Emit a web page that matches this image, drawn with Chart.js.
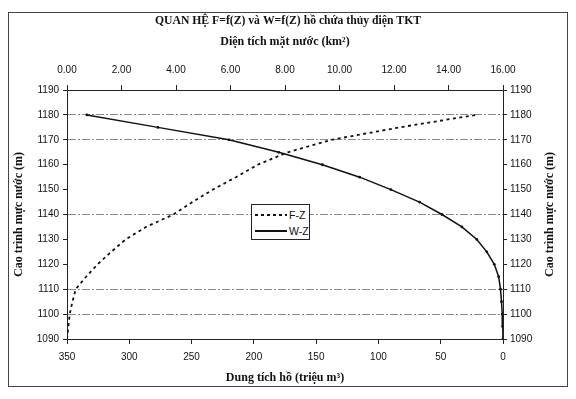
<!DOCTYPE html>
<html>
<head>
<meta charset="utf-8">
<script src="https://cdn.jsdelivr.net/npm/chart.js@4/dist/chart.umd.min.js"></script>
<style>
  body { margin: 0; background: #fff; }
  #wrap { position: relative; width: 576px; height: 399px; }
  #frame { position: absolute; left: 8px; top: 12px; width: 558px; height: 373px; border: 1px solid #444; pointer-events: none; }
  #legend { position: absolute; left: 251px; top: 204px; width: 57px; height: 34px; border: 1px solid #222; background: #fff;
            font: 10.5px "Liberation Sans", Arial, sans-serif; color: #111; }
  #legend .row { position: absolute; left: 0; width: 100%; height: 14px; line-height: 14px; white-space: nowrap; }
  #legend .smp { position: absolute; left: 3px; top: 6px; width: 32px; height: 2px; }
  #legend .txt { position: absolute; left: 37px; top: 0; }
</style>
</head>
<body>
<div id="wrap">
  <canvas id="chart" width="576" height="399"></canvas>
  <div id="frame"></div>
  <div id="legend">
    <div class="row" style="top:3px"><span class="smp" style="background:repeating-linear-gradient(90deg,#111 0 3px,transparent 3px 6px)"></span><span class="txt">F-Z</span></div>
    <div class="row" style="top:19px"><span class="smp" style="background:#111"></span><span class="txt">W-Z</span></div>
  </div>
</div>
<script>
// cao trình mực nước (m)
const levels = [1090, 1095, 1100, 1105, 1110, 1115, 1120, 1125, 1130, 1135, 1140, 1145, 1150, 1155, 1160, 1165, 1170, 1175, 1180];
// diện tích mặt nước F (km2)
const areaF = [0, 0.05, 0.1, 0.2, 0.32, 0.7, 1.12, 1.62, 2.15, 2.9, 3.9, 4.6, 5.35, 6.2, 7.0, 8.1, 9.7, 12.2, 15.0];
// dung tích hồ W (triệu m3)
const volumeW = [0, 0.2, 0.6, 1.2, 2, 3.5, 7, 13, 21, 33, 49, 67, 90, 115, 145, 180, 220, 277, 334];
// các đường lưới ngang hiện trên hình
const gridLevels = [1100, 1110, 1140, 1170, 1180];

const serif = '"Liberation Serif", "Times New Roman", serif';
const sans = '"Liberation Sans", Arial, sans-serif';
const ink = '#111';

const tickFont = { family: sans, size: 10 };
const titleFont = { family: serif, size: 12, weight: 'bold' };

// tiêu đề trục phải, đọc từ dưới lên như trục trái
const rightTitle = {
    id: 'rightTitle',
    afterDraw(chart) {
        const { ctx, chartArea } = chart;
        ctx.save();
        ctx.translate(550, (chartArea.top + chartArea.bottom) / 2);
        ctx.rotate(-Math.PI / 2);
        ctx.font = 'bold 12px ' + serif;
        ctx.fillStyle = ink;
        ctx.textAlign = 'center';
        ctx.textBaseline = 'middle';
        ctx.fillText('Cao trình mực nước (m)', 0, 0);
        ctx.restore();
    }
};

new Chart(document.getElementById('chart'), {
    type: 'scatter',
    data: {
        datasets: [{
            label: 'F-Z',
            data: levels.map((z, i) => ({ x: areaF[i], y: z })),
            xAxisID: 'x2',
            yAxisID: 'y',
            showLine: true,
            borderColor: ink,
            borderWidth: 1.8,
            borderDash: [3, 3.5],
            pointRadius: 0
        }, {
            label: 'W-Z',
            data: levels.map((z, i) => ({ x: volumeW[i], y: z })),
            xAxisID: 'x',
            yAxisID: 'y',
            showLine: true,
            borderColor: ink,
            borderWidth: 1.5,
            pointRadius: 1.4,
            pointBackgroundColor: ink,
            pointBorderWidth: 0
        }]
    },
    options: {
        responsive: false,
        animation: false,
        plugins: {
            legend: { display: false },
            tooltip: { enabled: false },
            title: {
                display: true,
                text: 'QUAN HỆ F=f(Z) và W=f(Z) hồ chứa thủy điện TKT',
                color: ink,
                font: { family: serif, size: 11.7, weight: 'bold' },
                padding: { top: 13.5, bottom: 0 }
            }
        },
        scales: {
            x: {
                type: 'linear', position: 'bottom', reverse: true, min: 0, max: 350,
                ticks: { stepSize: 50, font: tickFont, color: ink, padding: 7 },
                grid: { drawOnChartArea: false, tickLength: 5, tickColor: '#222' },
                border: { color: '#222' },
                title: { display: true, text: 'Dung tích hồ (triệu m³)', color: ink, font: titleFont, padding: { top: 0, bottom: 14 } },
                afterFit(s) { s.height = 60; }
            },
            x2: {
                type: 'linear', position: 'top', min: 0, max: 16,
                ticks: { stepSize: 2, font: tickFont, color: ink, padding: 9, callback: v => v.toFixed(2) },
                grid: { drawOnChartArea: false, tickLength: 5, tickColor: '#222' },
                border: { color: '#222' },
                title: { display: true, text: 'Diện tích mặt nước (km²)', color: ink, font: titleFont, padding: { top: 7.5, bottom: 0 } },
                afterFit(s) { s.height = 62.5; }
            },
            y: {
                type: 'linear', position: 'left', min: 1090, max: 1190,
                ticks: { stepSize: 10, font: tickFont, color: ink, padding: 4, callback: v => String(v) },
                grid: {
                    color: c => gridLevels.includes(c.tick && c.tick.value) ? '#8a8a8a' : 'rgba(0,0,0,0)',
                    tickLength: 4, tickColor: '#222'
                },
                border: { color: '#222', dash: [8, 2, 2, 2] },
                title: { display: true, text: 'Cao trình mực nước (m)', color: ink, font: titleFont, padding: { top: 12, bottom: 0 } },
                afterFit(s) { s.width = 67; }
            },
            y2: {
                type: 'linear', position: 'right', min: 1090, max: 1190,
                ticks: { stepSize: 10, font: tickFont, color: ink, padding: 3, callback: v => String(v) },
                grid: { drawOnChartArea: false, tickLength: 4, tickColor: '#222' },
                border: { color: '#222' },
                afterFit(s) { s.width = 73; }
            }
        }
    },
    plugins: [rightTitle]
});
</script>
</body>
</html>
